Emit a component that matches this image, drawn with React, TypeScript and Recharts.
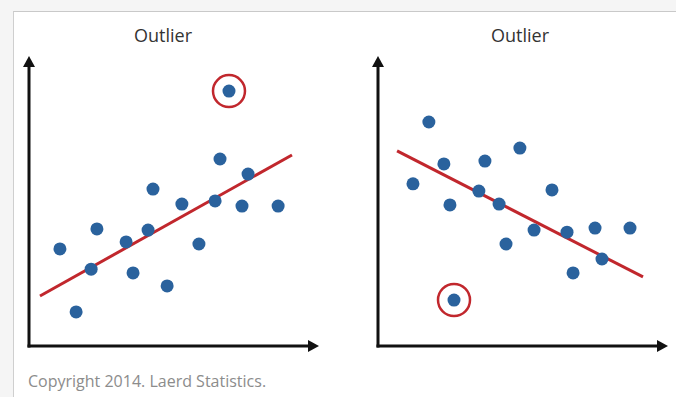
import React from 'react';
import { ScatterChart, Scatter, XAxis, YAxis, ReferenceLine, ReferenceDot } from 'recharts';

// left panel: positive trend, outlier high up
const leftPoints = [
  { x: 6.61, y: 6.47 },
  { x: 7.58, y: 5.95 },
  { x: 4.29, y: 5.43 },
  { x: 5.29, y: 4.91 },
  { x: 6.44, y: 5.02 },
  { x: 7.37, y: 4.84 },
  { x: 8.62, y: 4.84 },
  { x: 1.07, y: 3.36 },
  { x: 2.35, y: 4.05 },
  { x: 3.36, y: 3.6 },
  { x: 4.12, y: 4.01 },
  { x: 5.88, y: 3.53 },
  { x: 2.15, y: 2.66 },
  { x: 3.6, y: 2.53 },
  { x: 4.78, y: 2.08 },
  { x: 1.63, y: 1.18 },
  { x: 6.92, y: 8.82 },
];
const leftOutlier = { x: 6.92, y: 8.82 };
const leftFit = [{ x: 0.38, y: 1.73 }, { x: 9.1, y: 6.61 }];

// right panel: negative trend, outlier low down
const rightPoints = [
  { x: 1.76, y: 7.75 },
  { x: 4.91, y: 6.85 },
  { x: 2.28, y: 6.3 },
  { x: 3.7, y: 6.4 },
  { x: 1.21, y: 5.61 },
  { x: 6.02, y: 5.4 },
  { x: 3.49, y: 5.36 },
  { x: 2.49, y: 4.88 },
  { x: 4.19, y: 4.91 },
  { x: 5.4, y: 4.01 },
  { x: 6.54, y: 3.94 },
  { x: 7.51, y: 4.08 },
  { x: 8.72, y: 4.08 },
  { x: 4.43, y: 3.53 },
  { x: 7.75, y: 3.01 },
  { x: 6.75, y: 2.53 },
  { x: 2.63, y: 1.59 },
];
const rightOutlier = { x: 2.63, y: 1.59 };
const rightFit = [{ x: 0.66, y: 6.75 }, { x: 9.17, y: 2.39 }];

const titles = ['Outlier', 'Outlier'];
const copyright = 'Copyright 2014. Laerd Statistics.';

const xAxisSeg = [{ x: 0, y: 0 }, { x: 9.8, y: 0 }];
const yAxisSeg = [{ x: 0, y: 0 }, { x: 0, y: 9.8 }];

const BLUE = '#2a629d';
const RED = '#c1272d';
const INK = '#111';

const dot = (p: any) => <circle cx={p.cx} cy={p.cy} r={6.5} fill={BLUE} />;
const arrowRight = (p: any) => (
  <path d={`M${p.cx + 1},${p.cy} L${p.cx - 10},${p.cy - 6} L${p.cx - 10},${p.cy + 6} Z`} fill={INK} />
);
const arrowUp = (p: any) => (
  <path d={`M${p.cx},${p.cy - 1} L${p.cx - 6},${p.cy + 10} L${p.cx + 6},${p.cy + 10} Z`} fill={INK} />
);

interface PanelProps {
  points: { x: number; y: number }[]
  outlier: { x: number; y: number }
  fit: { x: number; y: number }[]
  left: number
  marginLeft: number
}

const Panel: React.FC<PanelProps> = ({ points, outlier, fit, left, marginLeft }) => (
  <div style={{ position: 'absolute', left, top: 0 }}>
    <ScatterChart
      width={340}
      height={397}
      margin={{ top: 57, right: 340 - marginLeft - 289, bottom: 51, left: marginLeft }}
    >
      <XAxis type="number" dataKey="x" domain={[0, 10]} hide />
      <YAxis type="number" dataKey="y" domain={[0, 10]} hide />
      <ReferenceLine segment={xAxisSeg} stroke={INK} strokeWidth={3} strokeLinecap="square" ifOverflow="visible" />
      <ReferenceLine segment={yAxisSeg} stroke={INK} strokeWidth={3} strokeLinecap="square" ifOverflow="visible" />
      <Scatter data={points} shape={dot} isAnimationActive={false} />
      <ReferenceLine segment={fit} stroke={RED} strokeWidth={3} ifOverflow="visible" />
      <ReferenceDot
        x={outlier.x}
        y={outlier.y}
        r={16}
        fill="none"
        stroke={RED}
        strokeWidth={2.5}
        ifOverflow="visible"
      />
      <ReferenceDot x={10} y={0} shape={arrowRight} ifOverflow="visible" />
      <ReferenceDot x={0} y={10} shape={arrowUp} ifOverflow="visible" />
    </ScatterChart>
  </div>
);

export default function App() {
  return (
    <div
      style={{
        position: 'absolute',
        left: 0,
        top: 0,
        width: 676,
        height: 397,
        overflow: 'hidden',
        background: '#f5f5f5',
        fontFamily: '"Open Sans", sans-serif',
      }}
    >
      <div
        style={{
          position: 'absolute',
          left: 13,
          top: 11,
          width: 700,
          height: 400,
          background: '#fff',
          borderLeft: '1.5px solid #cfcfcf',
          borderTop: '1.5px solid #c9c9c9',
        }}
      />
      <Panel points={leftPoints} outlier={leftOutlier} fit={leftFit} left={0} marginLeft={29} />
      <Panel points={rightPoints} outlier={rightOutlier} fit={rightFit} left={336} marginLeft={42} />
      {titles.map((t, i) => (
        <div
          key={i}
          style={{
            position: 'absolute',
            left: i === 0 ? 103 : 460,
            top: 23,
            width: 120,
            textAlign: 'center',
            fontSize: 18,
            color: '#333',
          }}
        >
          {t}
        </div>
      ))}
      <div
        style={{
          position: 'absolute',
          left: 28,
          top: 370,
          fontSize: 16,
          color: '#8c8c8c',
        }}
      >
        {copyright}
      </div>
    </div>
  );
}
